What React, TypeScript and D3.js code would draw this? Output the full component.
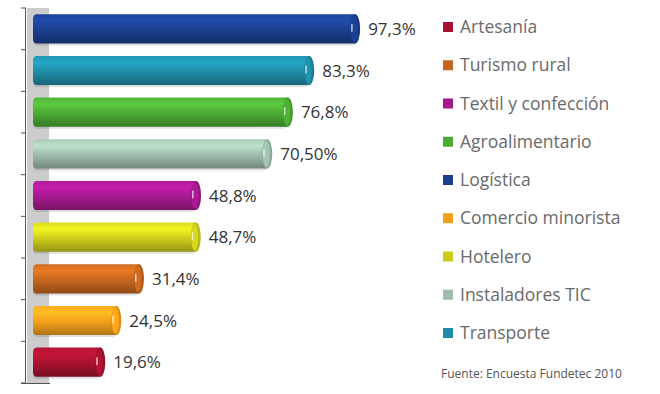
import React from 'react';
import * as d3 from 'd3';

const sectors = ['Logística', 'Transporte', 'Agroalimentario', 'Instaladores TIC', 'Textil y confección', 'Hotelero', 'Turismo rural', 'Comercio minorista', 'Artesanía'];
const values = [97.3, 83.3, 76.8, 70.5, 48.8, 48.7, 31.4, 24.5, 19.6];
const valueLabels = ['97,3%', '83,3%', '76,8%', '70,50%', '48,8%', '48,7%', '31,4%', '24,5%', '19,6%'];
const legendOrder = ['Artesanía', 'Turismo rural', 'Textil y confección', 'Agroalimentario', 'Logística', 'Comercio minorista', 'Hotelero', 'Instaladores TIC', 'Transporte'];
const colors: Record<string, string> = {
  'Logística': '#1b3f8e',
  'Transporte': '#1f8ba6',
  'Agroalimentario': '#4ba934',
  'Instaladores TIC': '#9dbcab',
  'Textil y confección': '#a5198d',
  'Hotelero': '#cccc1c',
  'Turismo rural': '#c4661f',
  'Comercio minorista': '#f29f1c',
  'Artesanía': '#a6122f',
};
const source = 'Fuente: Encuesta Fundetec 2010';

const W = 660;
const H = 394;

export default function App() {
  const x = d3.scaleLinear().domain([0, 100]).range([36, 364]);
  const y = d3.scaleBand().domain(sectors).range([8, 383]).paddingInner(0.3).paddingOuter(0.15);
  const bands = d3.scaleBand().domain(sectors).range([8, 383]);
  const legendY = d3.scalePoint().domain(legendOrder).range([27, 333]);
  const bh = y.bandwidth();
  const barStart = 33;

  return (
    <svg width={W} height={H} style={{ position: 'absolute', left: 0, top: 0, background: '#fff' }}>
      <defs>
        {sectors.map((s, i) => {
          const c = d3.color(colors[s])!;
          return (
            <linearGradient key={s} id={`g${i}`} x1="0" y1="0" x2="0" y2="1">
              <stop offset="0" stopColor={d3.color(c)!.brighter(0.2).toString()} />
              <stop offset="0.22" stopColor={d3.color(c)!.brighter(0.5).toString()} />
              <stop offset="0.55" stopColor={c.toString()} />
              <stop offset="1" stopColor={d3.color(c)!.darker(0.9).toString()} />
            </linearGradient>
          );
        })}
      </defs>
      {/* wall */}
      <rect x={27} y={8} width={22} height={375} fill="#cccccc" />
      <line x1={25.5} y1={8} x2={25.5} y2={383} stroke="#555" strokeWidth={1} />
      {d3.range(sectors.length + 1).map(k => {
        const ty = k < sectors.length ? bands(sectors[k])! : 383;
        return <line key={k} x1={21} x2={26} y1={ty} y2={ty} stroke="#555" strokeWidth={1} />;
      })}
      <line x1={21} x2={50} y1={383.5} y2={383.5} stroke="#555" strokeWidth={1} />
      {sectors.map((s, i) => {
        const top = y(s)!;
        const end = x(values[i]);
        const rx = 5;
        const base = d3.color(colors[s])!;
        return (
          <g key={s}>
            <rect x={barStart} y={top + 2} width={end - barStart} height={bh} rx={4} fill="#000" opacity={0.12} />
            <path
              d={`M${barStart + 4},${top} L${end},${top} L${end},${top + bh} L${barStart + 4},${top + bh} Q${barStart},${top + bh} ${barStart},${top + bh - 5} L${barStart},${top + 5} Q${barStart},${top} ${barStart + 4},${top} Z`}
              fill={`url(#g${i})`}
            />
            <ellipse cx={end} cy={top + bh / 2} rx={rx} ry={bh / 2} fill={base.darker(0.3).toString()} />
            <ellipse cx={end - 1} cy={top + bh / 2} rx={rx - 1.5} ry={bh / 2 - 1.5} fill={base.brighter(0.15).toString()} />
            <rect x={end - 4} y={top + bh / 2 - 5} width={1.5} height={8} rx={0.7} fill="#fff" opacity={0.7} />
            <text x={end + rx + 8} y={top + bh / 2} dy="0.36em" fontFamily="'Open Sans', sans-serif" fontSize={17} fill="#333">
              {valueLabels[i]}
            </text>
          </g>
        );
      })}
      {legendOrder.map(s => (
        <g key={s} transform={`translate(443,${legendY(s)})`}>
          <rect x={0} y={-5} width={10} height={10} fill={colors[s]} />
          <text x={17} y={0} dy="0.35em" fontFamily="'Open Sans', sans-serif" fontSize={17.5} fill="#6a6a6a">
            {s}
          </text>
        </g>
      ))}
      <text x={441} y={378} fontFamily="'Open Sans', sans-serif" fontSize={12} fill="#555">
        {source}
      </text>
    </svg>
  );
}
